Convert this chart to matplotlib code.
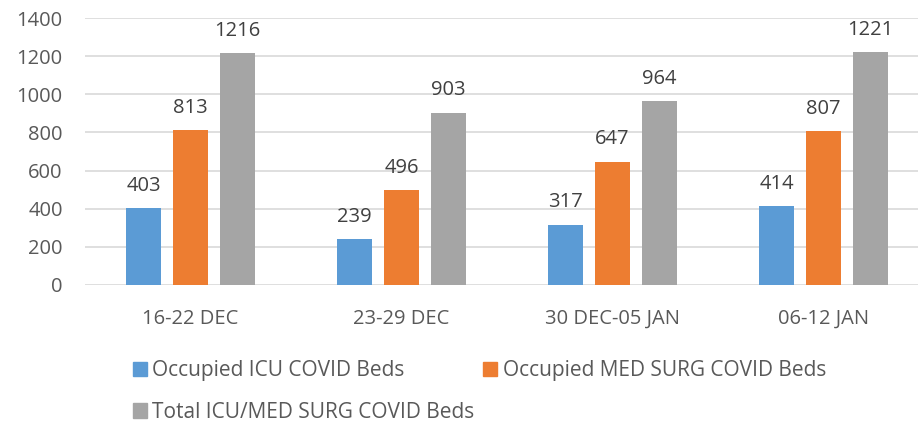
import matplotlib.pyplot as plt
import numpy as np
from matplotlib import font_manager
from matplotlib.patches import Patch

# weekly covid bed counts
weeks = ["16-22 DEC", "23-29 DEC", "30 DEC-05 JAN", "06-12 JAN"]
icu_beds = [403, 239, 317, 414]
med_surg_beds = [813, 496, 647, 807]
total_beds = [1216, 903, 964, 1221]
series_names = [
    "Occupied ICU COVID Beds",
    "Occupied MED SURG COVID Beds",
    "Total ICU/MED SURG COVID Beds",
]
colors = ["#5B9BD5", "#ED7D31", "#A5A5A5"]
text_color = "#595959"

names = {f.name for f in font_manager.fontManager.ttflist}
base_font = "Open Sans" if "Open Sans" in names else "DejaVu Sans"
plt.rcParams["font.family"] = [base_font, "DejaVu Sans"]

fig = plt.figure(figsize=(9.18, 4.23), dpi=100)
ax = fig.add_axes([85 / 918, 1 - 285 / 423, 833 / 918, 267 / 423])

x = np.arange(len(weeks))
width = 0.17
step = 0.223
for i, (vals, color) in enumerate(zip([icu_beds, med_surg_beds, total_beds], colors)):
    pos = x + (i - 1) * step
    bars = ax.bar(pos, vals, width, color=color, zorder=3)
    for b, v in zip(bars, vals):
        ax.text(b.get_x() + b.get_width() / 2, v + 65, str(v), ha="center",
                va="bottom", fontsize=14.5, color="#404040")

ax.set_ylim(0, 1400)
ax.set_xlim(-0.5, 3.5 - 11 / 211)
ax.set_yticks(range(0, 1401, 200))
ax.set_xticks(x)
ax.set_xticklabels(weeks)
ax.yaxis.grid(True, color="#D9D9D9", linewidth=1.2, zorder=0)
ax.tick_params(axis="both", length=0, labelsize=14.5, labelcolor=text_color)
ax.tick_params(axis="y", pad=16)
ax.tick_params(axis="x", pad=17)
for side in ["top", "right", "left", "bottom"]:
    ax.spines[side].set_visible(False)

# legend fills column-wise, so order entries to get two on the first row
handles = [Patch(color=c) for c in colors]
order = [0, 2, 1]
fig.legend([handles[i] for i in order], [series_names[i] for i in order],
           ncol=2, loc="upper left", bbox_to_anchor=(133 / 918, 1 - 360 / 423),
           frameon=False, borderpad=0, borderaxespad=0,
           handlelength=0.67, handleheight=0.67, handletextpad=0.25,
           columnspacing=0.43, labelspacing=1.0,
           prop={"family": base_font, "size": 15}, labelcolor=text_color)

fig.savefig("out.png", dpi=100)
